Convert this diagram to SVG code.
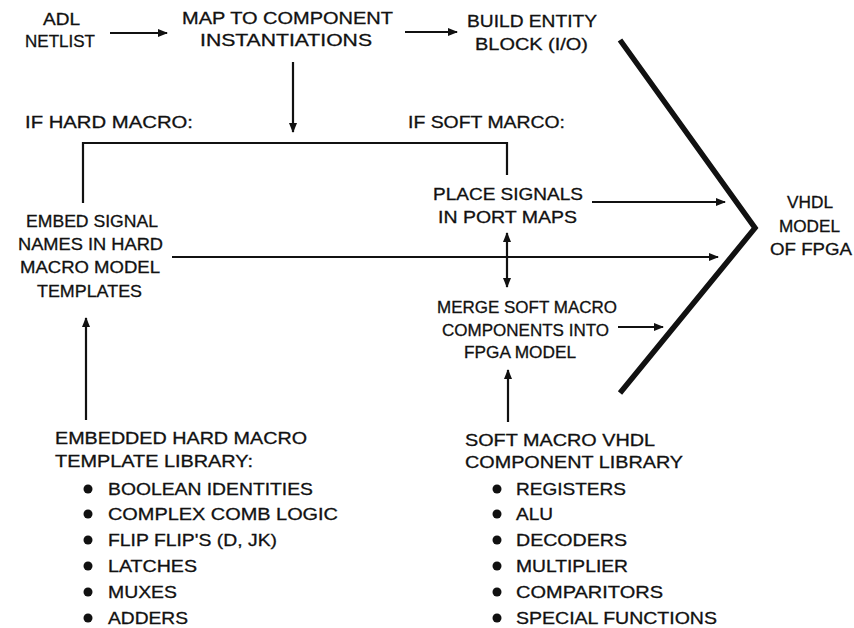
<svg xmlns="http://www.w3.org/2000/svg" width="854" height="628" viewBox="0 0 854 628">
<style>
text{font-family:"Liberation Sans",Arial,sans-serif;font-size:17px;fill:#111;stroke:#111;stroke-width:0.3;}
.ln{stroke:#111;stroke-width:2.2;fill:none;}
.thick{stroke:#111;stroke-width:5.5;fill:none;stroke-linejoin:miter;}
.dot{fill:#111;}
</style>
<defs>
<marker id="ah" markerWidth="10" markerHeight="8" refX="9" refY="4" orient="auto-start-reverse" markerUnits="userSpaceOnUse">
<path d="M0,0 L10,4 L0,8 Z" fill="#111"/>
</marker>
</defs>
<rect width="854" height="628" fill="#fff"/>
<g id="connectors">
<line class="ln" x1="110" y1="33" x2="167" y2="33" marker-end="url(#ah)"/>
<line class="ln" x1="405" y1="32" x2="457" y2="32" marker-end="url(#ah)"/>
<line class="ln" x1="293" y1="62" x2="293" y2="132" marker-end="url(#ah)"/>
<polyline class="ln" points="83,203 83,143 507,143 507,175"/>
<line class="ln" x1="592" y1="202" x2="725" y2="202" marker-end="url(#ah)"/>
<line class="ln" x1="172" y1="257" x2="718" y2="257" marker-end="url(#ah)"/>
<line class="ln" x1="507" y1="233" x2="507" y2="287" marker-start="url(#ah)" marker-end="url(#ah)"/>
<line class="ln" x1="618" y1="327" x2="663" y2="327" marker-end="url(#ah)"/>
<line class="ln" x1="508" y1="422" x2="508" y2="370" marker-end="url(#ah)"/>
<line class="ln" x1="86" y1="420" x2="86" y2="318" marker-end="url(#ah)"/>
<polyline class="thick" points="620,40 755,228 620,393"/>
</g>
<g id="adl-netlist">
<text x="43" y="25" textLength="37" lengthAdjust="spacingAndGlyphs">ADL</text>
<text x="25" y="47" textLength="70" lengthAdjust="spacingAndGlyphs">NETLIST</text>
</g>
<g id="map-component">
<text x="182" y="24" textLength="211" lengthAdjust="spacingAndGlyphs">MAP TO COMPONENT</text>
<text x="200" y="46" textLength="172" lengthAdjust="spacingAndGlyphs">INSTANTIATIONS</text>
</g>
<g id="build-entity">
<text x="467" y="27" textLength="130" lengthAdjust="spacingAndGlyphs">BUILD ENTITY</text>
<text x="475" y="50" textLength="113" lengthAdjust="spacingAndGlyphs">BLOCK (I/O)</text>
</g>
<g id="if-hard">
<text x="25" y="128" textLength="168" lengthAdjust="spacingAndGlyphs">IF HARD MACRO:</text>
</g>
<g id="if-soft">
<text x="408" y="128" textLength="157" lengthAdjust="spacingAndGlyphs">IF SOFT MARCO:</text>
</g>
<g id="place-signals">
<text x="433" y="200" textLength="150" lengthAdjust="spacingAndGlyphs">PLACE SIGNALS</text>
<text x="438" y="223" textLength="139" lengthAdjust="spacingAndGlyphs">IN PORT MAPS</text>
</g>
<g id="embed-signal">
<text x="26" y="227" textLength="132" lengthAdjust="spacingAndGlyphs">EMBED SIGNAL</text>
<text x="18" y="250" textLength="145" lengthAdjust="spacingAndGlyphs">NAMES IN HARD</text>
<text x="20" y="273" textLength="140" lengthAdjust="spacingAndGlyphs">MACRO MODEL</text>
<text x="37" y="297" textLength="105" lengthAdjust="spacingAndGlyphs">TEMPLATES</text>
</g>
<g id="vhdl-model">
<text x="787" y="208" textLength="46" lengthAdjust="spacingAndGlyphs">VHDL</text>
<text x="779" y="232" textLength="61" lengthAdjust="spacingAndGlyphs">MODEL</text>
<text x="770" y="255" textLength="82" lengthAdjust="spacingAndGlyphs">OF FPGA</text>
</g>
<g id="merge-soft">
<text x="437" y="313" textLength="180" lengthAdjust="spacingAndGlyphs">MERGE SOFT MACRO</text>
<text x="442" y="336" textLength="167" lengthAdjust="spacingAndGlyphs">COMPONENTS INTO</text>
<text x="464" y="358" textLength="112" lengthAdjust="spacingAndGlyphs">FPGA MODEL</text>
</g>
<g id="hard-library">
<text x="55" y="444" textLength="252" lengthAdjust="spacingAndGlyphs">EMBEDDED HARD MACRO</text>
<text x="55" y="467" textLength="198" lengthAdjust="spacingAndGlyphs">TEMPLATE LIBRARY:</text>
<circle class="dot" cx="88" cy="489" r="4.5"/><text x="108" y="495" textLength="205" lengthAdjust="spacingAndGlyphs">BOOLEAN IDENTITIES</text>
<circle class="dot" cx="88" cy="514" r="4.5"/><text x="108" y="520" textLength="230" lengthAdjust="spacingAndGlyphs">COMPLEX COMB LOGIC</text>
<circle class="dot" cx="88" cy="540" r="4.5"/><text x="108" y="546" textLength="169" lengthAdjust="spacingAndGlyphs">FLIP FLIP'S (D, JK)</text>
<circle class="dot" cx="88" cy="566" r="4.5"/><text x="108" y="572" textLength="89" lengthAdjust="spacingAndGlyphs">LATCHES</text>
<circle class="dot" cx="88" cy="592" r="4.5"/><text x="108" y="598" textLength="69" lengthAdjust="spacingAndGlyphs">MUXES</text>
<circle class="dot" cx="88" cy="618" r="4.5"/><text x="108" y="624" textLength="80" lengthAdjust="spacingAndGlyphs">ADDERS</text>
</g>
<g id="soft-library">
<text x="465" y="446" textLength="190" lengthAdjust="spacingAndGlyphs">SOFT MACRO VHDL</text>
<text x="465" y="468" textLength="218" lengthAdjust="spacingAndGlyphs">COMPONENT LIBRARY</text>
<circle class="dot" cx="497" cy="489" r="4.5"/><text x="516" y="495" textLength="110" lengthAdjust="spacingAndGlyphs">REGISTERS</text>
<circle class="dot" cx="497" cy="514" r="4.5"/><text x="516" y="520" textLength="37" lengthAdjust="spacingAndGlyphs">ALU</text>
<circle class="dot" cx="497" cy="540" r="4.5"/><text x="516" y="546" textLength="111" lengthAdjust="spacingAndGlyphs">DECODERS</text>
<circle class="dot" cx="497" cy="566" r="4.5"/><text x="516" y="572" textLength="112" lengthAdjust="spacingAndGlyphs">MULTIPLIER</text>
<circle class="dot" cx="497" cy="592" r="4.5"/><text x="516" y="598" textLength="147" lengthAdjust="spacingAndGlyphs">COMPARITORS</text>
<circle class="dot" cx="497" cy="618" r="4.5"/><text x="516" y="624" textLength="201" lengthAdjust="spacingAndGlyphs">SPECIAL FUNCTIONS</text>
</g>
</svg>
